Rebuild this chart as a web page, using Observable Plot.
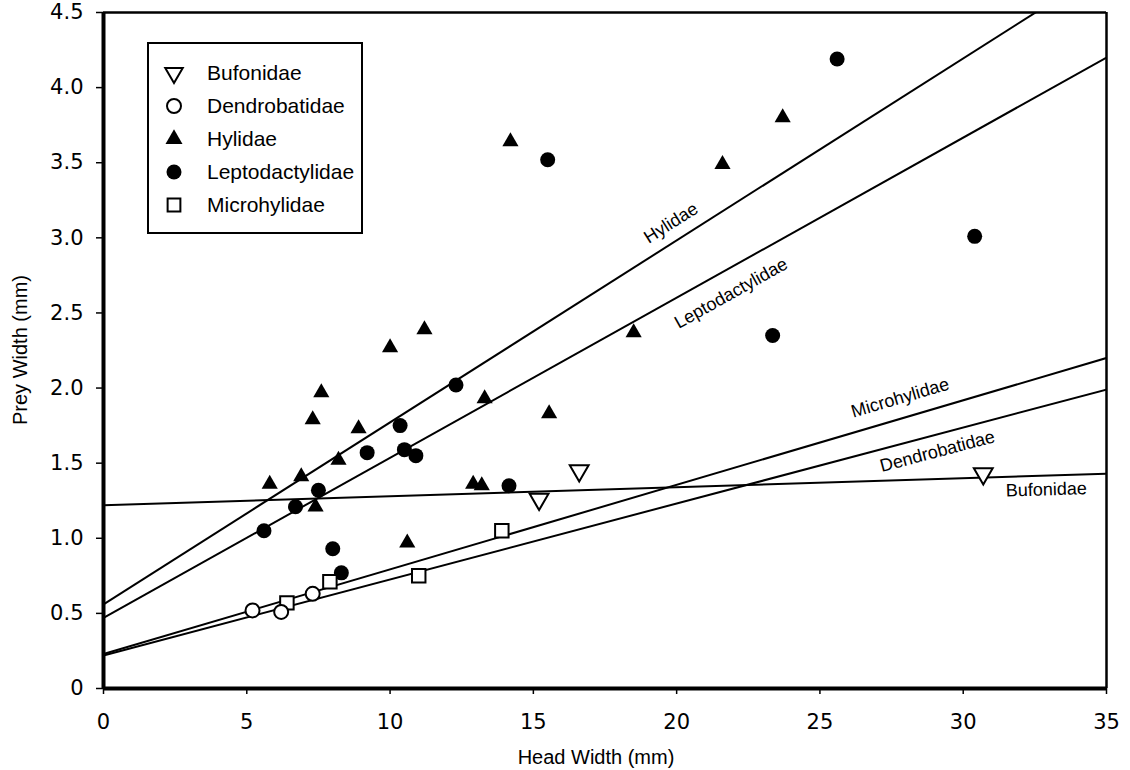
<!DOCTYPE html>
<html><head><meta charset="utf-8">
<script src="https://cdn.jsdelivr.net/npm/d3@7"></script>
<script src="https://cdn.jsdelivr.net/npm/@observablehq/plot@0.6"></script>
<style>
body{margin:0;background:#fff;}
#chart{width:1130px;height:770px;}
</style></head><body><div id="chart"></div>
<script>
// ---- data ----
const families = ["Bufonidae","Dendrobatidae","Hylidae","Leptodactylidae","Microhylidae"];

const bufoX = [15.2, 16.6, 30.7];
const bufoY = [1.26, 1.45, 1.43];

const dendroX = [5.2, 6.2, 7.3];
const dendroY = [0.52, 0.51, 0.63];

const hylaX = [5.8, 6.9, 7.3, 7.4, 7.6, 8.2, 8.9, 10.0, 10.6, 11.2, 12.9, 13.2, 13.3, 14.2, 15.55, 18.5, 21.6, 23.7];
const hylaY = [1.36, 1.41, 1.79, 1.21, 1.97, 1.52, 1.73, 2.27, 0.97, 2.39, 1.36, 1.35, 1.93, 3.64, 1.83, 2.37, 3.49, 3.80];

const leptoX = [5.6, 6.7, 7.5, 8.0, 8.3, 9.2, 10.35, 10.5, 10.9, 12.3, 14.15, 15.5, 23.35, 25.6, 30.4];
const leptoY = [1.05, 1.21, 1.32, 0.93, 0.77, 1.57, 1.75, 1.59, 1.55, 2.02, 1.35, 3.52, 2.35, 4.19, 3.01];

const microX = [6.4, 7.9, 11.0, 13.9];
const microY = [0.57, 0.71, 0.75, 1.05];

// regression lines: value at head width 0 and at head width 35
const fitStartX = 0, fitEndX = 35;
const fitY0 = [1.22, 0.22, 0.56, 0.47, 0.23];
const fitY1 = [1.43, 1.99, 4.80, 4.20, 2.20];

// where each line label sits along its line (head width), and its side offset
const labelX  = [32.9, 29.1, 19.8, 21.9, 27.8];
const labelDy = [14, 17, -21, 26, -21];

const xTicks = [0, 5, 10, 15, 20, 25, 30, 35];
const yTicks = [0, 0.5, 1.0, 1.5, 2.0, 2.5, 3.0, 3.5, 4.0, 4.5];
const xTitle = "Head Width (mm)";
const yTitle = "Prey Width (mm)";

// ---- layout ----
const W = 1130, H = 770, mL = 103, mR = 24, mT = 12, mB = 82;
const xk = (W - mL - mR) / (fitEndX - fitStartX);
const yk = (H - mT - mB) / 4.5;

const toPts = (xs, ys) => xs.map((x, i) => ({x, y: ys[i]}));
const bufo = toPts(bufoX, bufoY), dendro = toPts(dendroX, dendroY),
      hyla = toPts(hylaX, hylaY), lepto = toPts(leptoX, leptoY), micro = toPts(microX, microY);

const fits = families.map((f, i) => ({family: f, x0: fitStartX, y0: fitY0[i], x1: fitEndX, y1: fitY1[i]}));
const labels = families.map((f, i) => {
  const s = (fitY1[i] - fitY0[i]) / (fitEndX - fitStartX);
  return {family: f, x: labelX[i], y: fitY0[i] + s * (labelX[i] - fitStartX),
          rot: -Math.atan(s * yk / xk) * 180 / Math.PI, dy: labelDy[i]};
});

const labelFont = "Liberation Sans, Arial, Helvetica, sans-serif";
const tickFont = "DejaVu Sans, sans-serif";

const plot = Plot.plot({
  width: W, height: H,
  marginLeft: mL, marginRight: mR, marginTop: mT, marginBottom: mB,
  style: {fontFamily: tickFont, fontSize: "21px", color: "#000", background: "#fff", overflow: "visible"},
  x: {domain: [0, 35]},
  y: {domain: [0, 4.5]},
  marks: [
    Plot.axisX({ticks: xTicks, tickSize: 6, tickPadding: 20, tickFormat: d => String(d), label: null,
      strokeWidth: 1.5, fontSize: 21, fontFamily: tickFont}),
    Plot.axisY({ticks: yTicks, tickSize: 7, tickPadding: 13, tickFormat: d => d === 0 ? "0" : d.toFixed(1), label: null,
      strokeWidth: 1.5, fontSize: 21, fontFamily: tickFont}),
    Plot.link(fits, {x1: "x0", y1: "y0", x2: "x1", y2: "y1", stroke: "#000", strokeWidth: 2, clip: true}),
    ...labels.map(l => Plot.text([l], {x: "x", y: "y", text: "family", rotate: "rot", dy: l.dy,
        fontFamily: labelFont, fontSize: 18, fill: "#000"})),
    Plot.dot(hyla, {x: "x", y: "y", symbol: "triangle", r: 6, fill: "#000", stroke: "none"}),
    Plot.dot(lepto, {x: "x", y: "y", symbol: "circle", r: 7.5, fill: "#000", stroke: "none"}),
    Plot.dot(micro, {x: "x", y: "y", symbol: "square", r: 7.6, fill: "#fff", stroke: "#000", strokeWidth: 2}),
    Plot.dot(dendro, {x: "x", y: "y", symbol: "circle", r: 7, fill: "#fff", stroke: "#000", strokeWidth: 2}),
    Plot.dot(bufo, {x: "x", y: "y", symbol: "triangle", rotate: 180, r: 7, fill: "#fff", stroke: "#000", strokeWidth: 2}),
    Plot.ruleX([35], {stroke: "#000", strokeWidth: 2.5}),
    Plot.ruleY([4.5], {stroke: "#000", strokeWidth: 2.5}),
    Plot.ruleX([0], {stroke: "#000", strokeWidth: 4}),
    Plot.ruleY([0], {stroke: "#000", strokeWidth: 4})
  ]
});

document.getElementById("chart").appendChild(plot);

// ---- legend and axis titles ----
const svg = d3.select(plot);
const lg = svg.append("g");
lg.append("rect").attr("x", 148).attr("y", 43).attr("width", 214).attr("height", 190)
  .attr("fill", "#fff").attr("stroke", "#000").attr("stroke-width", 2);
const legendStyle = [
  {type: d3.symbolTriangle, r: 6.5, rot: 180, fill: "#fff", stroke: "#000"},
  {type: d3.symbolCircle, r: 7, rot: 0, fill: "#fff", stroke: "#000"},
  {type: d3.symbolTriangle, r: 6.3, rot: 0, fill: "#000", stroke: "none"},
  {type: d3.symbolCircle, r: 7.5, rot: 0, fill: "#000", stroke: "none"},
  {type: d3.symbolSquare, r: 7.2, rot: 0, fill: "#fff", stroke: "#000"}
];
families.forEach((f, i) => {
  const cy = 73 + i * 33, st = legendStyle[i];
  lg.append("path")
    .attr("d", d3.symbol(st.type, Math.PI * st.r * st.r)())
    .attr("transform", `translate(174,${cy}) rotate(${st.rot})`)
    .attr("fill", st.fill).attr("stroke", st.stroke).attr("stroke-width", 2);
  lg.append("text").attr("x", 207).attr("y", cy).attr("dy", "0.35em").attr("text-anchor", "start")
    .style("font-family", labelFont).style("font-size", "21px").attr("fill", "#000").text(f);
});
svg.append("text").attr("transform", "translate(20,350) rotate(-90)").attr("text-anchor", "middle")
  .attr("dy", "0.35em").style("font-family", labelFont).style("font-size", "20px").attr("fill", "#000").text(yTitle);
svg.append("text").attr("x", 596).attr("y", 757).attr("text-anchor", "middle")
  .attr("dy", "0.35em").style("font-family", labelFont).style("font-size", "20px").attr("fill", "#000").text(xTitle);
</script>
</body></html>
